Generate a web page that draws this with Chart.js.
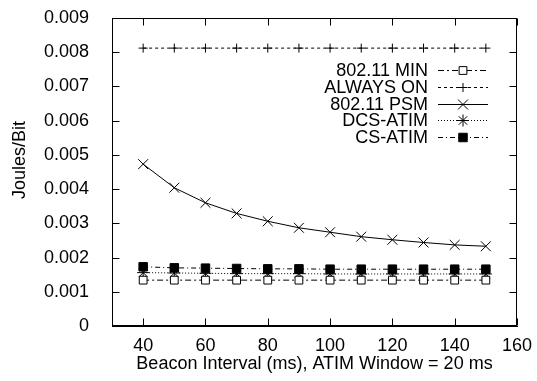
<!DOCTYPE html>
<html><head><meta charset="utf-8">
<script src="https://cdn.jsdelivr.net/npm/chart.js@4/dist/chart.umd.min.js"></script>
<style>html,body{margin:0;padding:0;background:#fff}canvas{display:block}</style>
</head><body>
<canvas id="c" width="537" height="381"></canvas>
<script>
// ---- data ----
const beaconIntervals = [40, 50, 60, 70, 80, 90, 100, 110, 120, 130, 140, 150];
const seriesLabels = ['802.11 MIN', 'ALWAYS ON', '802.11 PSM', 'DCS-ATIM', 'CS-ATIM'];
const min80211 = [0.00134, 0.00134, 0.00134, 0.00134, 0.00134, 0.00134, 0.00134, 0.00134, 0.00134, 0.00134, 0.00134, 0.00134];
const alwaysOn = [0.00812, 0.00812, 0.00812, 0.00812, 0.00812, 0.00812, 0.00812, 0.00812, 0.00812, 0.00812, 0.00812, 0.00812];
const psm80211 = [0.00473, 0.00404, 0.00360, 0.00329, 0.00306, 0.00287, 0.00274, 0.00261, 0.00252, 0.00244, 0.00237, 0.00233];
const dcsAtim = [0.00156, 0.00155, 0.00154, 0.00153, 0.00153, 0.00153, 0.00152, 0.00152, 0.00152, 0.00152, 0.00152, 0.00152];
const csAtim = [0.00173, 0.00170, 0.00169, 0.00168, 0.00167, 0.00167, 0.00166, 0.00166, 0.00166, 0.00166, 0.00166, 0.00166];
const xTickValues = [40, 60, 80, 100, 120, 140, 160];
const yTickValues = [0, 0.001, 0.002, 0.003, 0.004, 0.005, 0.006, 0.007, 0.008, 0.009];
const xTitle = 'Beacon Interval (ms), ATIM Window = 20 ms';
const yTitle = 'Joules/Bit';

const FONT = '"Liberation Sans", Arial, Helvetica, sans-serif';
const FS = 18;

function pts(arr) { return beaconIntervals.map((x, i) => ({ x: x, y: arr[i] })); }

const styles = [
  { dash: [6, 3, 2, 3], point: 'rect', r: 5.5, fill: '#fff' },
  { dash: [3, 3], point: 'cross', r: 4.5, fill: '#fff' },
  { dash: [], point: 'crossRot', r: 7, fill: '#fff' },
  { dash: [1, 2], point: 'star', r: 6, fill: '#fff' },
  { dash: [5, 3, 1, 3], point: 'rect', r: 6, fill: '#000' }
];
const seriesData = [min80211, alwaysOn, psm80211, dcsAtim, csAtim];

const datasets = seriesData.map((arr, i) => ({
  label: seriesLabels[i],
  data: pts(arr),
  borderColor: '#000',
  backgroundColor: styles[i].fill,
  borderWidth: 1,
  borderDash: styles[i].dash,
  pointStyle: styles[i].point,
  pointRadius: styles[i].r,
  pointBorderWidth: 1,
  pointBorderColor: '#000',
  pointBackgroundColor: styles[i].fill,
  tension: 0,
  fill: false
}));

function drawMarker(ctx, style, r, fill, cx, cy) {
  ctx.fillStyle = fill;
  ctx.strokeStyle = '#000';
  ctx.lineWidth = 1;
  if (Chart.helpers && Chart.helpers.drawPoint) {
    Chart.helpers.drawPoint(ctx, { pointStyle: style, radius: r, borderWidth: 1, rotation: 0 }, cx, cy);
  }
}

const gnuPlugin = {
  id: 'gnuDecor',
  afterDraw(chart) {
    const ctx = chart.ctx;
    const xs = chart.scales.x, ys = chart.scales.y;
    const a = chart.chartArea;
    ctx.save();
    ctx.setLineDash([]);
    ctx.strokeStyle = '#000';
    ctx.lineWidth = 1;
    // plot frame
    ctx.strokeRect(a.left + 0.5, a.top + 0.5, a.width - 1, a.height - 1);
    // inward, mirrored ticks
    const tl = 7;
    const L = a.left + 0.5, R = a.right - 0.5, T = a.top + 0.5, B = a.bottom - 0.5;
    ctx.beginPath();
    xTickValues.forEach(v => {
      const px = Math.round(xs.getPixelForValue(v)) + 0.5;
      ctx.moveTo(px, B); ctx.lineTo(px, B - tl);
      ctx.moveTo(px, T); ctx.lineTo(px, T + tl);
    });
    yTickValues.forEach(v => {
      const py = Math.round(ys.getPixelForValue(v)) + 0.5;
      ctx.moveTo(L, py); ctx.lineTo(L + tl, py);
      ctx.moveTo(R, py); ctx.lineTo(R - tl, py);
    });
    ctx.stroke();

    // y title
    ctx.save();
    ctx.translate(20, 160);
    ctx.rotate(-Math.PI / 2);
    ctx.font = FS + 'px ' + FONT;
    ctx.fillStyle = '#000';
    ctx.textAlign = 'center';
    ctx.textBaseline = 'middle';
    ctx.fillText(yTitle, 0, 0);
    ctx.restore();

    // legend
    const textRight = 428, sampleL = 438, sampleR = 488, mid = 463;
    const top = 70, step = 16.8;
    chart.data.datasets.forEach((ds, i) => {
      const yy = Math.round(top + i * step) + 0.5;
      ctx.font = FS + 'px ' + FONT;
      ctx.fillStyle = '#000';
      ctx.textAlign = 'right';
      ctx.textBaseline = 'middle';
      ctx.fillText(ds.label, textRight, yy + 0.5);
      ctx.strokeStyle = '#000';
      ctx.lineWidth = 1;
      ctx.setLineDash(ds.borderDash);
      ctx.beginPath();
      ctx.moveTo(sampleL, yy); ctx.lineTo(sampleR, yy);
      ctx.stroke();
      ctx.setLineDash([]);
      drawMarker(ctx, ds.pointStyle, ds.pointRadius, ds.pointBackgroundColor, mid, yy);
    });
    ctx.restore();
  }
};

new Chart(document.getElementById('c'), {
  type: 'line',
  data: { datasets: datasets },
  options: {
    responsive: false,
    animation: false,
    devicePixelRatio: 1,
    layout: { padding: { left: 0, right: 20, top: 18, bottom: 0 } },
    plugins: { legend: { display: false }, tooltip: { enabled: false } },
    scales: {
      x: {
        type: 'linear',
        min: 30, max: 160,
        afterBuildTicks(s) { s.ticks = xTickValues.map(v => ({ value: v })); },
        afterFit(s) { s.height = 55; s.paddingLeft = 0; s.paddingRight = 0; },
        grid: { display: false, drawTicks: false },
        border: { display: true, color: '#000', width: 1 },
        ticks: { color: '#000', font: { family: FONT, size: FS }, padding: 9, maxRotation: 0, autoSkip: false },
        title: { display: true, text: xTitle, color: '#000', font: { family: FONT, size: FS }, padding: { top: 0, bottom: 6 } }
      },
      y: {
        type: 'linear',
        min: 0, max: 0.009,
        afterBuildTicks(s) { s.ticks = yTickValues.map(v => ({ value: v })); },
        afterFit(s) { s.width = 112; s.paddingTop = 0; s.paddingBottom = 0; },
        grid: { display: false, drawTicks: false },
        border: { display: true, color: '#000', width: 1 },
        ticks: {
          color: '#000', font: { family: FONT, size: FS }, padding: 23, autoSkip: false,
          callback: v => v === 0 ? '0' : v.toFixed(3)
        },
        title: { display: false }
      }
    }
  },
  plugins: [gnuPlugin]
});
</script>
</body></html>
